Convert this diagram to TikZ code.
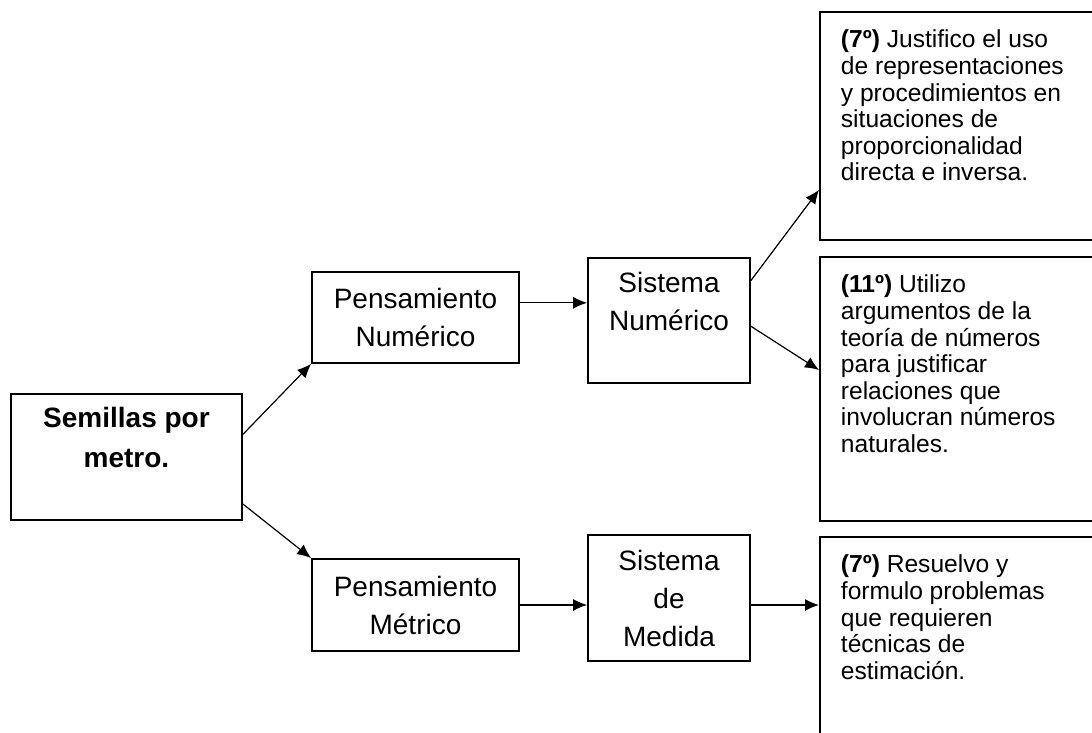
\documentclass[tikz,border=0pt]{standalone}
\usepackage{fontspec}
\setmainfont{Liberation Sans}
\usetikzlibrary{arrows.meta}
\newcommand{\criterio}[2]{\parbox[t][#1][t]{130pt}{\raggedright\fontsize{12.3}{13.3}\selectfont\rule{0pt}{18pt}#2}}

\begin{document}
\begin{tikzpicture}[x=0.5pt,y=-0.5pt,>={Latex[length=7pt,width=6pt]},
  caja/.style={draw,line width=0.9pt,align=center,inner sep=0pt,font=\fontsize{14}{19}\selectfont},
  criterio/.style={draw,line width=0.9pt,anchor=north west,inner xsep=10.5pt,inner ysep=0pt},
  flecha/.style={->,line width=0.6pt}]
  \clip (0,0) rectangle (1092,733);
  \node[caja,font=\bfseries\fontsize{14}{20}\selectfont,minimum width=115.5pt,minimum height=63pt] (sem) at (126.5,457) {Semillas por\\metro.\\\mbox{}};
  \node[caja,minimum width=103.5pt,minimum height=45.5pt] (pn) at (415.5,317.5) {Pensamiento\\Numérico};
  \node[caja,minimum width=81pt,minimum height=62.5pt] (sn) at (669,320.5) {Sistema\\Numérico\\\mbox{}};
  \node[caja,minimum width=103.5pt,minimum height=46pt] (pm) at (415.5,605) {Pensamiento\\Métrico};
  \node[caja,minimum width=81pt,minimum height=63pt] (sm) at (669,598) {Sistema\\de\\Medida};
  \node[criterio] (r1) at (819,11) {\criterio{114pt}{\textbf{(7º)} Justifico el uso\\de representaciones\\y procedimientos en\\situaciones de\\proporcionalidad\\directa e inversa.}};
  \node[criterio] (r2) at (819,256) {\criterio{132pt}{\textbf{(11º)} Utilizo\\argumentos de la\\teoría de números\\para justificar\\relaciones que\\involucran números\\naturales.}};
  \node[criterio] (r3) at (819,536) {\criterio{115pt}{\textbf{(7º)} Resuelvo y\\formulo problemas\\que requieren\\técnicas de\\estimación.}};
  % flechas
  \draw[flecha] (sem.11.7) -- (pn.south west);
  \draw[flecha] (sem.-22.1) -- (pm.north west);
  \draw[flecha] (pn.8) -- (pn.8 -| sn.west);
  \draw[flecha] (sn.26.6) -- ([yshift=25.5pt]r1.south west);
  \draw[flecha] (sn.-4.6) -- ([yshift=-57pt]r2.north west);
  \draw[flecha] (pm.east) -- (pm.east -| sm.west);
  \draw[flecha] (pm.east -| sm.east) -- (pm.east -| r3.west);
\end{tikzpicture}
\end{document}
